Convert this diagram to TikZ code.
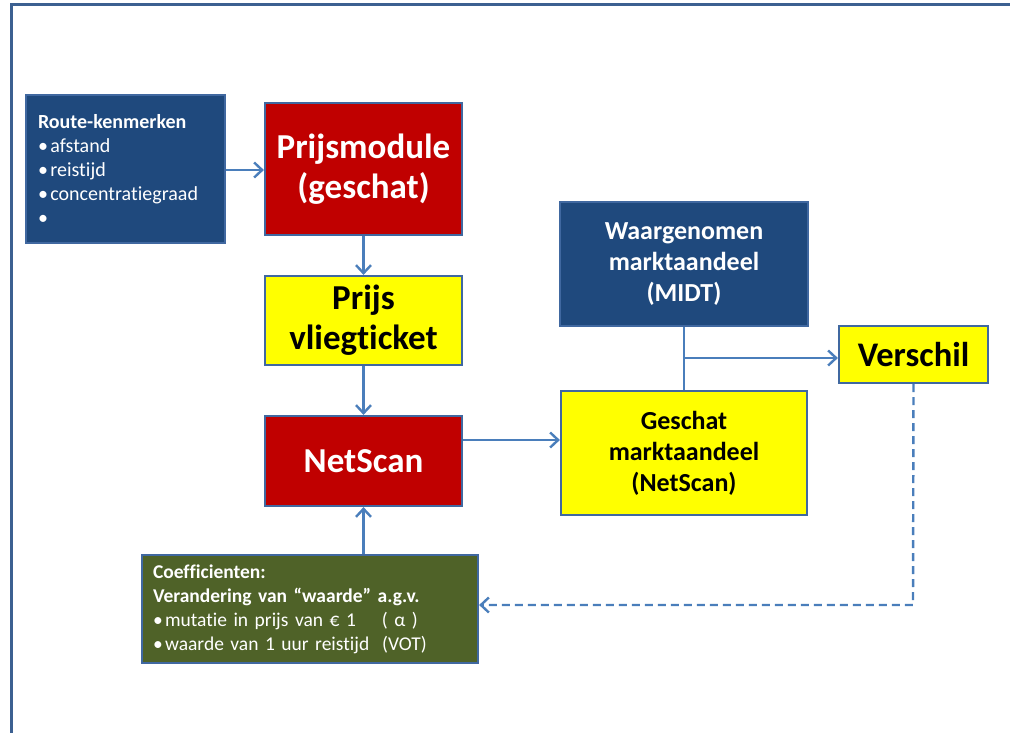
\documentclass[tikz,border=0pt]{standalone}
\usepackage{fontspec}
\setmainfont[Ligatures=NoCommon]{Carlito}
\usetikzlibrary{arrows.meta}
\definecolor{dblue}{RGB}{31,73,125}
\definecolor{bord}{RGB}{64,104,160}
\definecolor{dred}{RGB}{192,0,0}
\definecolor{yel}{RGB}{255,255,0}
\definecolor{olive}{RGB}{79,98,40}
\definecolor{lnc}{RGB}{74,126,187}
\definecolor{frm}{RGB}{60,96,145}
\newcommand{\bul}{•\hspace{0.12em}}
\tikzset{
  box/.style={draw=bord, line width=2.2pt, inner sep=0pt, align=center},
  conn/.style={draw=lnc, line width=2.4pt},
  arr/.style={conn, -{Straight Barb[length=8pt,width=15pt,line width=2.4pt]}},
}
\begin{document}
\begin{tikzpicture}[x=1pt,y=-1pt]
\useasboundingbox (0,0) rectangle (1010,733);
\draw[frm, line width=3pt] (11,733) -- (11,5) -- (1010,5);

\node[box, fill=dblue, text=white, minimum width=199pt, minimum height=148pt, text width=175pt, align=left, font=\fontsize{20}{24}\selectfont] (route) at (125.5,169)
  {\textbf{Route-kenmerken}\\ \bul afstand\\ \bul reistijd\\ \bul concentratiegraad\\ •};
\node[box, fill=dred, text=white, minimum width=197pt, minimum height=132pt, font=\bfseries\fontsize{35}{40}\selectfont] (prijsmod) at (363.5,169) {Prijsmodule\\(geschat)};
\node[box, fill=yel, text=black, minimum width=197pt, minimum height=89pt, font=\bfseries\fontsize{35}{40}\selectfont] (prijs) at (363.5,320.5) {Prijs\\vliegticket};
\node[box, fill=dred, text=white, minimum width=197pt, minimum height=90pt, font=\bfseries\fontsize{35}{40}\selectfont] (netscan) at (363.5,461) {NetScan};
\node[box, fill=olive, text=white, minimum width=336pt, minimum height=108pt, text width=314pt, align=left, font=\fontsize{19.5}{24}\selectfont] (coef) at (310,609)
  {\textbf{Coefficienten:}\\ \textbf{Verandering van “waarde” a.g.v.}\\ \bul mutatie in prijs van € 1 \ \ \ ( α )\\ \bul waarde van 1 uur reistijd \ (VOT)};
\node[box, fill=dblue, text=white, minimum width=248pt, minimum height=124pt, font=\bfseries\fontsize{26}{31}\selectfont] (waarg) at (684,264) {Waargenomen\\marktaandeel\\(MIDT)};
\node[box, fill=yel, text=black, minimum width=246pt, minimum height=124pt, font=\bfseries\fontsize{26}{31}\selectfont] (gesch) at (684,453) {Geschat\\marktaandeel\\(NetScan)};
\node[box, fill=yel, text=black, minimum width=149pt, minimum height=57pt, font=\bfseries\fontsize{34.5}{40}\selectfont] (versch) at (913.5,354.5) {Verschil};

\coordinate (br) at (684,358);
\coordinate (dc) at (913,605);

\draw[arr] (route.east |- 0,170) -- (prijsmod.west |- 0,170);
\draw[arr] (prijsmod) -- (prijs);
\draw[arr] (prijs) -- (netscan);
\draw[arr] (coef.north -| netscan) -- (netscan.south);
\draw[arr] (netscan.east |- 0,440) -- (gesch.west |- 0,440);
\draw[conn] (waarg.south) -- (gesch.north);
\draw[arr] (br) -- (versch.west |- br);
\draw[arr, dash pattern=on 8pt off 5pt] (versch.south) -- (dc) -- (coef.east |- dc);
\end{tikzpicture}
\end{document}
